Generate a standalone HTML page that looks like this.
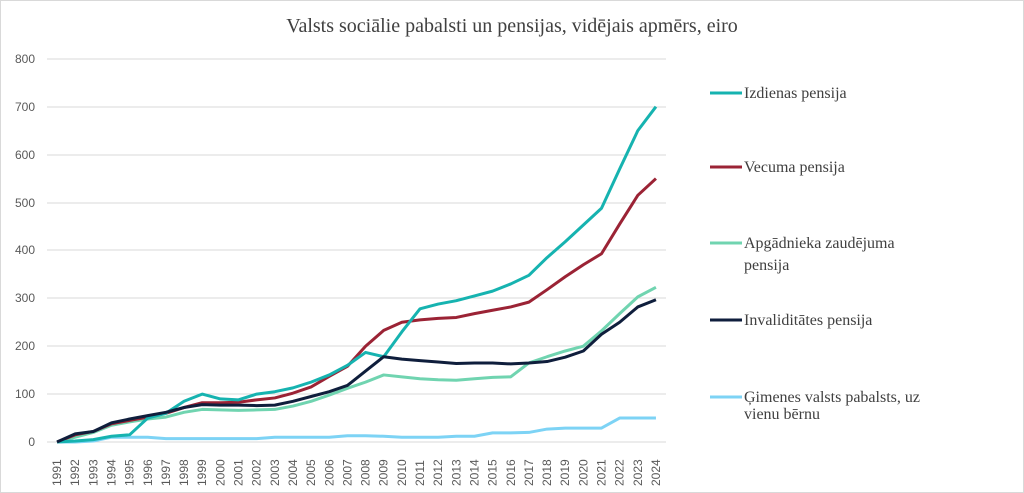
<!DOCTYPE html>
<html><head><meta charset="utf-8"><style>
html,body{margin:0;padding:0;background:#fff;}
svg{display:block;}
</style></head><body>
<svg width="1024" height="493" viewBox="0 0 1024 493" xmlns="http://www.w3.org/2000/svg">
<rect x="0.5" y="0.5" width="1023" height="492" fill="#fff" stroke="#d9d9d9"/>
<text x="512" y="32" text-anchor="middle" font-family="Liberation Serif, serif" font-size="20" fill="#404040">Valsts sociālie pabalsti un pensijas, vidējais apmērs, eiro</text>
<g stroke="#d9d9d9" stroke-width="1">
<line x1="47" x2="666" y1="59" y2="59"/><line x1="47" x2="666" y1="107" y2="107"/>
<line x1="47" x2="666" y1="155" y2="155"/><line x1="47" x2="666" y1="203" y2="203"/>
<line x1="47" x2="666" y1="250" y2="250"/><line x1="47" x2="666" y1="298" y2="298"/>
<line x1="47" x2="666" y1="346" y2="346"/><line x1="47" x2="666" y1="394" y2="394"/>
<line x1="47" x2="666" y1="442" y2="442"/>
</g>
<g font-family="Liberation Sans, sans-serif" font-size="12" fill="#595959" text-anchor="end">
<text x="35" y="63">800</text><text x="35" y="111">700</text><text x="35" y="159">600</text>
<text x="35" y="207">500</text><text x="35" y="254">400</text><text x="35" y="302">300</text>
<text x="35" y="350">200</text><text x="35" y="398">100</text><text x="35" y="446">0</text>
</g>
<g font-family="Liberation Sans, sans-serif" font-size="12" fill="#595959" text-anchor="start">
<text transform="translate(61,486) rotate(-90)">1991</text>
<text transform="translate(79.15,486) rotate(-90)">1992</text>
<text transform="translate(97.3,486) rotate(-90)">1993</text>
<text transform="translate(115.45,486) rotate(-90)">1994</text>
<text transform="translate(133.6,486) rotate(-90)">1995</text>
<text transform="translate(151.75,486) rotate(-90)">1996</text>
<text transform="translate(169.9,486) rotate(-90)">1997</text>
<text transform="translate(188.05,486) rotate(-90)">1998</text>
<text transform="translate(206.2,486) rotate(-90)">1999</text>
<text transform="translate(224.35,486) rotate(-90)">2000</text>
<text transform="translate(242.5,486) rotate(-90)">2001</text>
<text transform="translate(260.65,486) rotate(-90)">2002</text>
<text transform="translate(278.8,486) rotate(-90)">2003</text>
<text transform="translate(296.95,486) rotate(-90)">2004</text>
<text transform="translate(315.1,486) rotate(-90)">2005</text>
<text transform="translate(333.25,486) rotate(-90)">2006</text>
<text transform="translate(351.4,486) rotate(-90)">2007</text>
<text transform="translate(369.55,486) rotate(-90)">2008</text>
<text transform="translate(387.7,486) rotate(-90)">2009</text>
<text transform="translate(405.85,486) rotate(-90)">2010</text>
<text transform="translate(424,486) rotate(-90)">2011</text>
<text transform="translate(442.15,486) rotate(-90)">2012</text>
<text transform="translate(460.3,486) rotate(-90)">2013</text>
<text transform="translate(478.45,486) rotate(-90)">2014</text>
<text transform="translate(496.6,486) rotate(-90)">2015</text>
<text transform="translate(514.75,486) rotate(-90)">2016</text>
<text transform="translate(532.9,486) rotate(-90)">2017</text>
<text transform="translate(551.05,486) rotate(-90)">2018</text>
<text transform="translate(569.2,486) rotate(-90)">2019</text>
<text transform="translate(587.35,486) rotate(-90)">2020</text>
<text transform="translate(605.5,486) rotate(-90)">2021</text>
<text transform="translate(623.65,486) rotate(-90)">2022</text>
<text transform="translate(641.8,486) rotate(-90)">2023</text>
<text transform="translate(659.95,486) rotate(-90)">2024</text>
</g>
<g transform="translate(57,442) scale(18.15,-0.479)" fill="none" stroke-width="3" stroke-linejoin="round">
<polyline vector-effect="non-scaling-stroke" stroke="#7dd3f5" points="0,0 1,0 2,2 3,10 4,10 5,10 6,7 7,7 8,7 9,7 10,7 11,7 12,10 13,10 14,10 15,10 16,13 17,13 18,12 19,10 20,10 21,10 22,12 23,12 24,19 25,19 26,20 27,27 28,29 29,29 30,29 31,50 32,50 33,50"/>
<polyline vector-effect="non-scaling-stroke" stroke="#70d4b0" points="0,0 1,10 2,20 3,35 4,42 5,48 6,52 7,62 8,68 9,67 10,66 11,67 12,68 13,75 14,85 15,98 16,112 17,125 18,140 19,136 20,132 21,130 22,129 23,132 24,135 25,136 26,165 27,178 28,190 29,200 30,232 31,268 32,303 33,323"/>
<polyline vector-effect="non-scaling-stroke" stroke="#9b2335" points="0,0 1,15 2,22 3,38 4,45 5,52 6,60 7,72 8,82 9,82 10,83 11,88 12,92 13,102 14,115 15,137 16,158 17,200 18,233 19,250 20,255 21,258 22,260 23,268 24,275 25,282 26,292 27,318 28,345 29,370 30,393 31,455 32,515 33,550"/>
<polyline vector-effect="non-scaling-stroke" stroke="#16b3b0" points="0,0 1,2 2,5 3,12 4,15 5,50 6,60 7,85 8,100 9,90 10,88 11,100 12,105 13,113 14,125 15,140 16,160 17,187 18,178 19,230 20,278 21,288 22,295 23,305 24,315 25,330 26,348 27,385 28,418 29,453 30,488 31,570 32,650 33,700"/>
<polyline vector-effect="non-scaling-stroke" stroke="#0f1e3c" points="0,0 1,17 2,22 3,40 4,48 5,55 6,62 7,72 8,78 9,77 10,77 11,76 12,77 13,85 14,95 15,105 16,118 17,148 18,178 19,173 20,170 21,167 22,164 23,165 24,165 25,163 26,165 27,168 28,177 29,190 30,225 31,250 32,282 33,297"/>
</g>
<g stroke-width="3">
<line x1="710" x2="742" y1="93" y2="93" stroke="#16b3b0"/>
<line x1="710" x2="742" y1="167" y2="167" stroke="#9b2335"/>
<line x1="710" x2="742" y1="243" y2="243" stroke="#70d4b0"/>
<line x1="710" x2="742" y1="320" y2="320" stroke="#0f1e3c"/>
<line x1="710" x2="742" y1="397" y2="397" stroke="#7dd3f5"/>
</g>
<g font-family="Liberation Serif, serif" font-size="16" fill="#404040">
<text x="744" y="98">Izdienas pensija</text>
<text x="744" y="172">Vecuma pensija</text>
<text x="744" y="248">Apgādnieka zaudējuma</text>
<text x="744" y="270">pensija</text>
<text x="744" y="325">Invaliditātes pensija</text>
<text x="744" y="402">Ģimenes valsts pabalsts, uz</text>
<text x="744" y="419">vienu bērnu</text>
</g>
</svg>
</body></html>
